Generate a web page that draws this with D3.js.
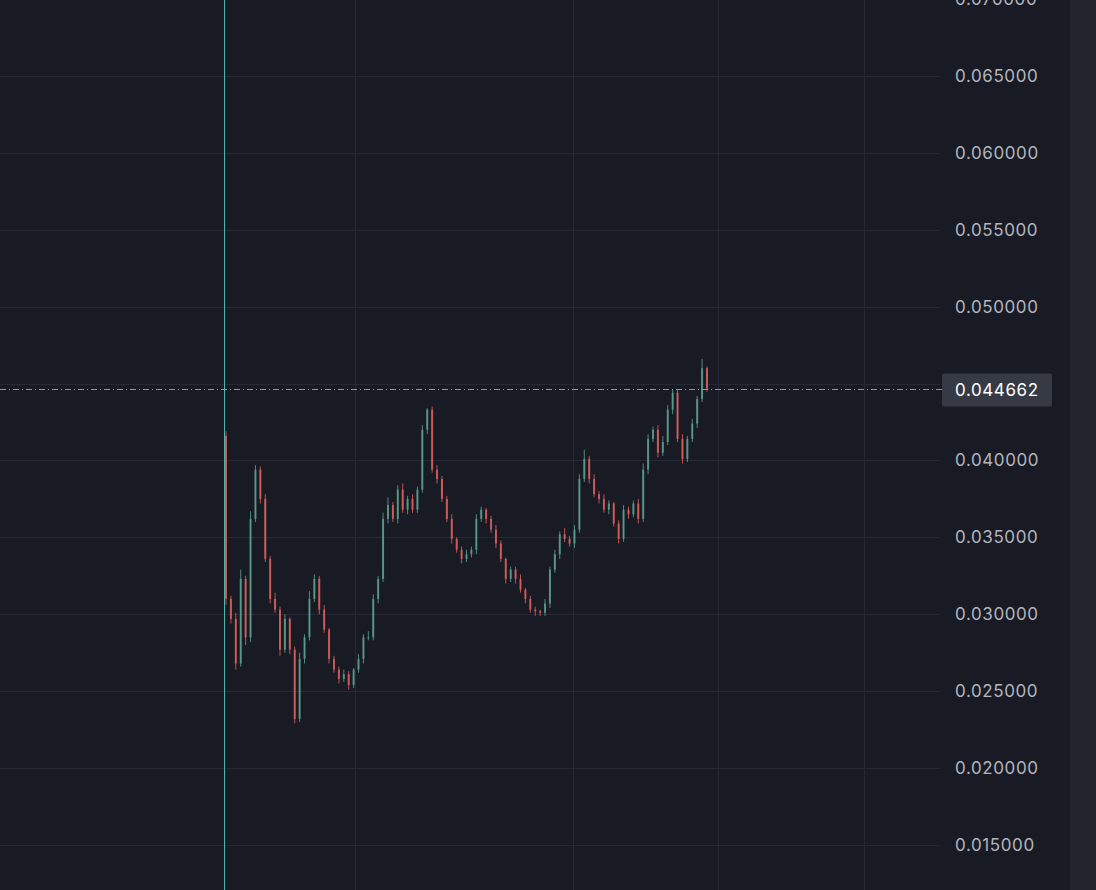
<!DOCTYPE html><html><head><meta charset="utf-8"><script src="https://cdn.jsdelivr.net/npm/d3@7"></script>
<style>body{margin:0;background:#181a24}svg{display:block}</style></head><body><svg id="c" width="1096" height="890"></svg>
<script>
const closes=[0.0310,0.0297,0.0268,0.0323,0.0285,0.0362,0.0394,0.0375,0.0336,0.0310,0.0303,0.0277,0.0297,0.0277,0.0232,0.0271,0.0285,0.0310,0.0323,0.0303,0.0290,0.0271,0.0264,0.0258,0.0261,0.0254,0.0264,0.0271,0.0285,0.0285,0.0310,0.0323,0.0362,0.0371,0.0362,0.0381,0.0368,0.0375,0.0368,0.0381,0.0420,0.0433,0.0394,0.0388,0.0375,0.0362,0.0349,0.0342,0.0336,0.0339,0.0342,0.0362,0.0368,0.0362,0.0355,0.0346,0.0336,0.0323,0.0329,0.0323,0.0316,0.0310,0.0303,0.0302,0.0301,0.0307,0.0329,0.0339,0.0352,0.0349,0.0346,0.0355,0.0388,0.0401,0.0388,0.0378,0.0375,0.0368,0.0372,0.0359,0.0349,0.0368,0.0365,0.0372,0.0362,0.0394,0.0414,0.0420,0.0405,0.0412,0.0433,0.0444,0.0414,0.0401,0.0414,0.0424,0.0440,0.0460,0.044662];
const firstOpen=0.0416;
const wickUp=[3,2,4,6,2,5,3,2,3,2,4,2,3,1,2,4,2,5,3,2,3,1,2,2,3,2,1,3,2,4,3,2,4,5,2,3,4,2,3,2,3,1,2,3,2,2,3,1,2,3,2,3,2,1,2,3,2,1,2,2,3,1,2,2,1,3,2,3,2,4,2,3,3,6,2,3,2,3,2,1,2,3,2,2,3,4,3,2,3,4,3,2,2,3,2,3,2,6,1];
const wickDn=[4,3,4,2,5,3,2,3,2,3,2,4,2,3,3,2,3,2,2,3,2,3,2,3,2,3,2,2,3,2,2,3,2,3,2,3,2,3,2,2,2,3,2,3,2,2,3,2,3,2,2,3,2,3,2,3,2,3,2,3,2,3,2,3,2,2,3,2,3,2,2,3,2,2,3,2,3,2,3,2,3,2,3,2,3,2,3,2,3,2,2,3,2,3,2,2,3,2,2];
const yTicks=[0.015,0.020,0.025,0.030,0.035,0.040,0.045,0.050,0.055,0.060,0.065,0.070];
const lastPrice=0.044662;

const svg=d3.select('#c');
const y=d3.scaleLinear().domain([0.015,0.070]).range([845,-1]);
const x=d3.scaleLinear().domain([0,closes.length-1]).range([226,707]);
svg.append('rect').attr('x',1070).attr('y',0).attr('width',26).attr('height',890).attr('fill','#22242e');
svg.append('g').selectAll('line').data(yTicks).join('line').attr('x1',0).attr('x2',940).attr('y1',d=>Math.round(y(d))+0.5).attr('y2',d=>Math.round(y(d))+0.5).attr('stroke','#262935');
svg.append('g').selectAll('line').data([355,573,718,864]).join('line').attr('x1',d=>d+0.5).attr('x2',d=>d+0.5).attr('y1',0).attr('y2',890).attr('stroke','#262935');
svg.append('g').selectAll('text').data(yTicks.filter(d=>Math.abs(d-0.045)>1e-9)).join('text').attr('x',955).attr('y',d=>y(d)+6).attr('fill','#b2b5be').attr('font-family','Inter, "Noto Sans", sans-serif').attr('font-size',17).attr('letter-spacing',0.6).text(d=>d.toFixed(6));
svg.append('line').attr('x1',224.5).attr('x2',224.5).attr('y1',0).attr('y2',890).attr('stroke','#4db6ac').attr('stroke-width',1);
const candles=closes.map((c,i)=>{const o=i?closes[i-1]:firstOpen;return{i,o,c,h:Math.max(o,c)+wickUp[i]*0.0001,l:Math.min(o,c)-wickDn[i]*0.0001};});
const col=d=>d.c>=d.o?'#5a9e8f':'#d9605c';
const g=svg.append('g');
g.selectAll('line').data(candles).join('line').attr('x1',d=>x(d.i)).attr('x2',d=>x(d.i)).attr('y1',d=>y(d.h)).attr('y2',d=>y(d.l)).attr('stroke',col).attr('opacity',0.85);
g.selectAll('rect').data(candles).join('rect').attr('x',d=>x(d.i)-1).attr('width',2).attr('y',d=>y(Math.max(d.o,d.c))).attr('height',d=>Math.max(1,Math.abs(y(d.o)-y(d.c)))).attr('fill',col).attr('opacity',0.85);
const ly=Math.round(y(lastPrice))+0.5;
svg.append('line').attr('x1',0).attr('x2',942).attr('y1',ly).attr('y2',ly).attr('stroke','#9598a1').attr('stroke-dasharray','6,3,1,3');
svg.append('rect').attr('x',942).attr('y',ly-16).attr('width',110).attr('height',33).attr('rx',2).attr('fill','#363a45');
svg.append('text').attr('x',955).attr('y',ly+6).attr('fill','#ffffff').attr('font-family','Inter, "Noto Sans", sans-serif').attr('font-size',17).attr('letter-spacing',0.6).text(lastPrice.toFixed(6));
</script></body></html>
